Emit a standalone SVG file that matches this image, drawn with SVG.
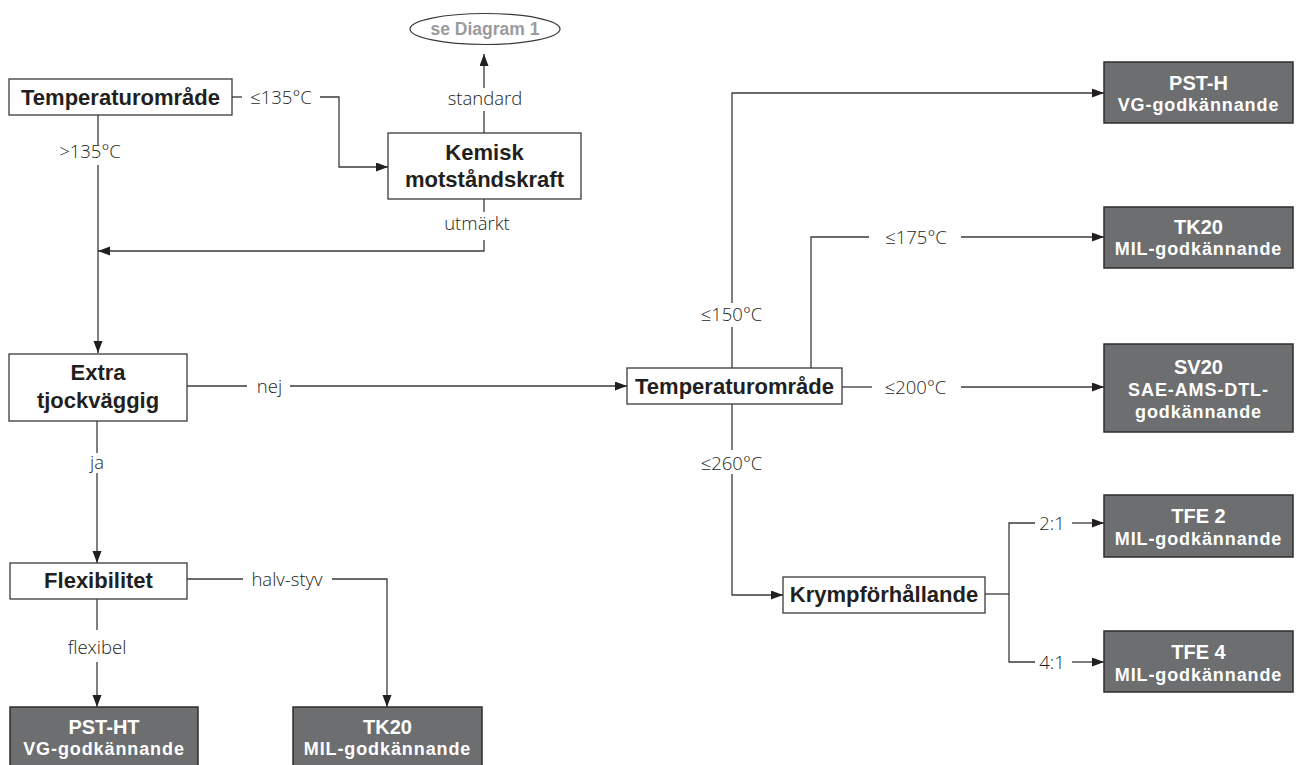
<svg xmlns="http://www.w3.org/2000/svg" width="1302" height="765" viewBox="0 0 1302 765">
<defs>
<marker id="arr" markerUnits="userSpaceOnUse" markerWidth="12" markerHeight="10" refX="12" refY="4.5" orient="auto">
<path d="M0,0 L12,4.5 L0,9 z" fill="#231f20"/>
</marker>
<style>
.bx{fill:#fff;stroke:#3a3a3a;stroke-width:1.3}
.dk{fill:#6d6e70;stroke:#2e2e2e;stroke-width:1.5}
.nt{font-family:"Liberation Sans",Arial,sans-serif;font-weight:700;font-size:22px;fill:#231f20;text-anchor:middle}
.d1{font-family:"Liberation Sans",Arial,sans-serif;font-weight:700;font-size:20px;fill:#fff;text-anchor:middle}
.d2{font-family:"Liberation Sans",Arial,sans-serif;font-weight:700;font-size:18px;letter-spacing:0.9px;fill:#fff;text-anchor:middle}
.lb{font-family:"Open Sans","Liberation Sans",sans-serif;font-weight:300;font-size:18.5px;fill:#231f20;text-anchor:middle}
.cn{fill:none;stroke:#3a3a3a;stroke-width:1.3}
</style>
</defs>
<rect width="1302" height="765" fill="#fff"/>

<g id="connectors" class="cn">
<path d="M232,97 H242"/>
<path d="M320,97 H339 V167 H388" marker-end="url(#arr)"/>
<path d="M484,133 V111"/>
<path d="M484,88 V54" marker-end="url(#arr)"/>
<path d="M484,199 V212"/>
<path d="M484,240 V251 H98" marker-end="url(#arr)"/>
<path d="M98,115 V145"/>
<path d="M98,165 V353" marker-end="url(#arr)"/>
<path d="M187,386 H247"/>
<path d="M290,386 H627" marker-end="url(#arr)"/>
<path d="M97,421 V453"/>
<path d="M97,473 V563" marker-end="url(#arr)"/>
<path d="M187,579 H243"/>
<path d="M332,579 H387 V707" marker-end="url(#arr)"/>
<path d="M97,599 V630"/>
<path d="M97,662 V707" marker-end="url(#arr)"/>
<path d="M732,368 V327"/>
<path d="M732,303 V93 H1104" marker-end="url(#arr)"/>
<path d="M811,368 V237 H869"/>
<path d="M961,237 H1104" marker-end="url(#arr)"/>
<path d="M842,387 H872"/>
<path d="M961,387 H1104" marker-end="url(#arr)"/>
<path d="M732,404 V450"/>
<path d="M732,474 V595 H783" marker-end="url(#arr)"/>
<path d="M985,594 H1009"/>
<path d="M1035,523 H1009 V662 H1035"/>
<path d="M1072,523 H1104" marker-end="url(#arr)"/>
<path d="M1072,662 H1104" marker-end="url(#arr)"/>
</g>

<g id="labels">
<text class="lb" x="281" y="104">≤135°C</text>
<text class="lb" x="485" y="105">standard</text>
<text class="lb" x="477" y="230">utmärkt</text>
<text class="lb" x="90" y="158">&gt;135°C</text>
<text class="lb" x="269.5" y="393">nej</text>
<text class="lb" x="97" y="469">ja</text>
<text class="lb" x="287" y="586">halv-styv</text>
<text class="lb" x="97" y="654">flexibel</text>
<text class="lb" x="731.5" y="321">≤150°C</text>
<text class="lb" x="916" y="244">≤175°C</text>
<text class="lb" x="915.5" y="394">≤200°C</text>
<text class="lb" x="731.5" y="470">≤260°C</text>
<text class="lb" x="1052" y="530">2:1</text>
<text class="lb" x="1052" y="669">4:1</text>
</g>

<g id="n-diagram1">
<ellipse cx="485" cy="29" rx="75" ry="15.5" fill="#fff" stroke="#3a3a3a" stroke-width="1.2"/>
<text x="485" y="35" font-family="Liberation Sans, Arial, sans-serif" font-weight="700" font-size="17.5" fill="#9a9b9d" text-anchor="middle">se Diagram 1</text>
</g>

<g id="n-temp1">
<rect class="bx" x="9" y="79" width="223" height="36"/>
<text class="nt" x="120.5" y="105">Temperaturområde</text>
</g>

<g id="n-kemisk">
<rect class="bx" x="388" y="133" width="193" height="66"/>
<text class="nt" x="484.5" y="160">Kemisk</text>
<text class="nt" x="484.5" y="187">motståndskraft</text>
</g>

<g id="n-extra">
<rect class="bx" x="9" y="354" width="178" height="67"/>
<text class="nt" x="98" y="380">Extra</text>
<text class="nt" x="98" y="408">tjockväggig</text>
</g>

<g id="n-flex">
<rect class="bx" x="10" y="563" width="177" height="36"/>
<text class="nt" x="98.5" y="588">Flexibilitet</text>
</g>

<g id="n-temp2">
<rect class="bx" x="627" y="368" width="215" height="36"/>
<text class="nt" x="734.5" y="394">Temperaturområde</text>
</g>

<g id="n-krymp">
<rect class="bx" x="783" y="577" width="202" height="36"/>
<text class="nt" x="884" y="602">Krympförhållande</text>
</g>

<g id="n-psth">
<rect class="dk" x="1104" y="62" width="189" height="61"/>
<text class="d1" x="1198.5" y="89.5">PST-H</text>
<text class="d2" x="1198.5" y="110.5">VG-godkännande</text>
</g>

<g id="n-tk20a">
<rect class="dk" x="1104" y="207" width="189" height="61"/>
<text class="d1" x="1198.5" y="233.5">TK20</text>
<text class="d2" x="1198.5" y="254.5">MIL-godkännande</text>
</g>

<g id="n-sv20">
<rect class="dk" x="1104" y="344" width="189" height="88"/>
<text class="d1" x="1198.5" y="374">SV20</text>
<text class="d2" x="1198.5" y="395.5">SAE-AMS-DTL-</text>
<text class="d2" x="1198.5" y="417.5">godkännande</text>
</g>

<g id="n-tfe2">
<rect class="dk" x="1104" y="495" width="189" height="62"/>
<text class="d1" x="1198.5" y="522.5">TFE 2</text>
<text class="d2" x="1198.5" y="545">MIL-godkännande</text>
</g>

<g id="n-tfe4">
<rect class="dk" x="1104" y="631" width="189" height="61"/>
<text class="d1" x="1198.5" y="658.5">TFE 4</text>
<text class="d2" x="1198.5" y="681">MIL-godkännande</text>
</g>

<g id="n-pstht">
<rect class="dk" x="10" y="707" width="188" height="70"/>
<text class="d1" x="104" y="734">PST-HT</text>
<text class="d2" x="104" y="755">VG-godkännande</text>
</g>

<g id="n-tk20b">
<rect class="dk" x="293" y="707" width="189" height="70"/>
<text class="d1" x="387.5" y="734">TK20</text>
<text class="d2" x="387.5" y="755">MIL-godkännande</text>
</g>
</svg>
